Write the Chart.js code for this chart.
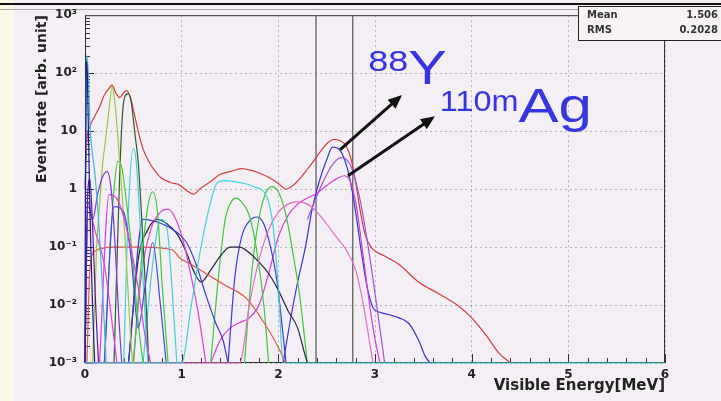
<!DOCTYPE html>
<html>
<head>
<meta charset="utf-8">
<script src="https://cdn.jsdelivr.net/npm/chart.js@4.4.0/dist/chart.umd.min.js"></script>
<style>
  html, body { margin: 0; padding: 0; background: #f4eff4; }
</style>
</head>
<body>
<canvas id="myChart" width="721" height="401"></canvas>
<script>
// axis ticks
const xTicks = [0, 1, 2, 3, 4, 5, 6];
const yTicks = [0.001, 0.01, 0.1, 1, 10, 100, 1000];
const yTickLabels = ["10\u207B\u00B3", "10\u207B\u00B2", "10\u207B\u00B9", "1", "10", "10\u00B2", "10\u00B3"];
const markerLines = [2.39, 2.77];
const statsNames = ["Mean", "RMS"];
const statsValues = ["1.506", "0.2028"];

// low energy spikes
const navyE = [0.0, 0.005, 0.012, 0.02, 0.03, 0.045, 0.06, 0.08, 0.1];
const navyRate = [0.001, 2, 120, 160, 30, 1.5, 0.1, 0.008, 0.001];
const purpleBandE = [0.0, 0.02, 0.05, 0.08, 0.11, 0.14];
const purpleBandRate = [0.001, 0.3, 1.5, 0.2, 0.01, 0.001];
const cyanSpikeE = [0.0, 0.01, 0.02, 0.035, 0.05, 0.07, 0.1, 0.14, 0.18, 0.22];
const cyanSpikeRate = [0.001, 20, 200, 90, 15, 5, 2, 0.3, 0.02, 0.001];
const violetE = [0.0, 0.03, 0.08, 0.13, 0.18, 0.23, 0.27, 0.31, 0.35, 0.38];
const violetRate = [0.001, 0.6, 0.3, 0.8, 1.6, 2.0, 1.0, 0.12, 0.006, 0.001];
const lightGreenE = [0.08, 0.12, 0.15, 0.18, 0.21, 0.25, 0.28, 0.31, 0.34, 0.38, 0.42, 0.46, 0.49];
const lightGreenRate = [0.001, 0.1, 0.5, 2.5, 6.5, 25, 58, 30, 8, 1, 0.1, 0.006, 0.001];
const darkGreenE = [0.3, 0.33, 0.36, 0.39, 0.42, 0.45, 0.48, 0.52, 0.55, 0.58, 0.62, 0.66];
const darkGreenRate = [0.001, 0.05, 2, 22, 42, 44, 30, 8, 3, 0.5, 0.03, 0.001];
const greenE = [0.2, 0.26, 0.3, 0.34, 0.38, 0.42, 0.48, 0.55, 0.6];
const greenRate = [0.001, 0.1, 1, 3, 2.4, 0.8, 0.1, 0.005, 0.001];
const greenMidE = [0.5, 0.58, 0.65, 0.7, 0.75, 0.8, 0.86];
const greenMidRate = [0.001, 0.05, 0.5, 0.9, 0.4, 0.02, 0.001];
const cyanMidE = [0.4, 0.45, 0.5, 0.53, 0.56, 0.6, 0.65];
const cyanMidRate = [0.001, 0.5, 5, 3, 0.5, 0.03, 0.001];
const magentaLowE = [0.0, 0.03, 0.1, 0.2, 0.28, 0.33];
const magentaLowRate = [0.001, 0.5, 0.2, 0.05, 0.005, 0.001];
const magentaFallE = [0.15, 0.25, 0.35, 0.45, 0.55, 0.62, 0.68];
const magentaFallRate = [0.001, 0.8, 0.6, 0.15, 0.02, 0.003, 0.001];
const blueVE = [0.2, 0.3, 0.4, 0.48, 0.55, 0.62, 0.7, 0.78, 0.84];
const blueVRate = [0.001, 0.5, 0.4, 0.06, 0.004, 0.02, 0.12, 0.01, 0.001];

// middle region
const blueFallE = [0.45, 0.6, 0.8, 0.95, 1.05, 1.15, 1.25, 1.35, 1.43, 1.48];
const blueFallRate = [0.001, 0.3, 0.25, 0.18, 0.12, 0.05, 0.015, 0.005, 0.0024, 0.001];
const magentaDomeE = [0.5, 0.58, 0.68, 0.78, 0.86, 0.94, 1.02, 1.1, 1.18, 1.25];
const magentaDomeRate = [0.001, 0.03, 0.2, 0.4, 0.45, 0.3, 0.12, 0.03, 0.006, 0.001];
const cyanLowE = [0.6, 0.7, 0.78, 0.85, 0.9, 0.95];
const cyanLowRate = [0.001, 0.05, 0.3, 0.2, 0.02, 0.001];
const orangeE = [0.02, 0.05, 0.1, 0.3, 0.6, 0.9, 0.98, 1.1, 1.25, 1.45, 1.67, 1.85, 2.02, 2.07];
const orangeRate = [0.001, 0.04, 0.085, 0.1, 0.1, 0.09, 0.065, 0.05, 0.035, 0.022, 0.013, 0.005, 0.0016, 0.001];
const blackE = [0.45, 0.55, 0.65, 0.75, 0.85, 0.95, 1.05, 1.12, 1.2, 1.3, 1.4, 1.5, 1.6, 1.7, 1.8, 1.9, 2.0, 2.1, 2.2, 2.27, 2.3];
const blackRate = [0.001, 0.06, 0.2, 0.3, 0.25, 0.17, 0.08, 0.04, 0.025, 0.04, 0.07, 0.1, 0.1, 0.08, 0.055, 0.035, 0.018, 0.008, 0.004, 0.0015, 0.001];
const cyanE = [0.0, 1.0, 1.1, 1.2, 1.3, 1.37, 1.45, 1.55, 1.65, 1.75, 1.85, 1.9, 1.95, 2.0, 2.05, 6.0];
const cyanRate = [0.001, 0.001, 0.01, 0.1, 0.6, 1.3, 1.4, 1.35, 1.25, 1.1, 0.9, 0.6, 0.2, 0.02, 0.001, 0.001];
const greenAE = [1.3, 1.38, 1.45, 1.5, 1.56, 1.62, 1.7, 1.78, 1.85, 1.9];
const greenARate = [0.001, 0.03, 0.3, 0.55, 0.7, 0.6, 0.35, 0.08, 0.01, 0.001];
const greenBE = [1.65, 1.72, 1.78, 1.85, 1.93, 2.0, 2.08, 2.15, 2.22, 2.3];
const greenBRate = [0.001, 0.03, 0.2, 0.7, 1.1, 0.9, 0.35, 0.08, 0.015, 0.001];
const blueDomeE = [1.48, 1.55, 1.62, 1.7, 1.78, 1.85, 1.92, 1.98, 2.03, 2.08];
const blueDomeRate = [0.001, 0.03, 0.15, 0.28, 0.33, 0.25, 0.1, 0.03, 0.006, 0.001];
const pinkE = [0.0, 1.6, 1.7, 1.8, 1.9, 2.0, 2.1, 2.2, 2.3, 2.4, 2.5, 2.6, 2.7, 2.8, 2.88, 2.95, 2.98];
const pinkRate = [0.001, 0.001, 0.01, 0.06, 0.2, 0.4, 0.55, 0.6, 0.55, 0.4, 0.25, 0.15, 0.09, 0.04, 0.01, 0.002, 0.001];

// 88Y and 110mAg peaks
const agE = [1.3, 1.4, 1.5, 1.6, 1.7, 1.8, 1.9, 2.0, 2.1, 2.2, 2.3, 2.4, 2.5, 2.6, 2.68, 2.74, 2.8, 2.86, 2.92, 2.98, 3.05];
const agRate = [0.001, 0.0025, 0.004, 0.005, 0.006, 0.01, 0.035, 0.15, 0.35, 0.55, 0.7, 0.85, 1.15, 1.5, 1.7, 1.4, 0.6, 0.12, 0.02, 0.004, 0.001];
const violetPeakE = [2.3, 2.45, 2.55, 2.65, 2.75, 2.85, 2.95, 3.05, 3.1];
const violetPeakRate = [0.3, 1.2, 2.5, 3.5, 2.5, 0.6, 0.06, 0.004, 0.001];
const yttriumE = [2.05, 2.12, 2.2, 2.28, 2.35, 2.42, 2.5, 2.56, 2.62, 2.68, 2.74, 2.8, 2.86, 2.92, 2.98, 3.05, 3.15, 3.25, 3.35, 3.45, 3.52, 3.57];
const yttriumRate = [0.001, 0.005, 0.025, 0.1, 0.45, 1.3, 3.2, 5.3, 5.0, 3.4, 1.5, 0.4, 0.08, 0.02, 0.009, 0.0075, 0.0068, 0.006, 0.0048, 0.0025, 0.0013, 0.001];

// total
const totalE = [0.0, 0.02, 0.05, 0.1, 0.15, 0.2, 0.25, 0.28, 0.32, 0.36, 0.4, 0.43, 0.47, 0.51, 0.55, 0.6, 0.66, 0.72, 0.78, 0.88,
  0.97, 1.05, 1.12, 1.2, 1.3, 1.4, 1.5, 1.62, 1.72, 1.8, 1.9, 2.0, 2.08, 2.15, 2.22, 2.3, 2.38, 2.45, 2.52, 2.58,
  2.64, 2.7, 2.75, 2.8, 2.85, 2.9, 2.97, 3.1, 3.25, 3.45, 3.65, 3.85, 4.0, 4.15, 4.28, 4.4];
const totalRate = [1, 7, 12, 18, 26, 42, 55, 62, 45, 38, 46, 50, 38, 20, 10, 5, 3, 2.1, 1.6, 1.3,
  1.2, 0.95, 0.82, 1.05, 1.35, 1.8, 2.0, 2.25, 2.1, 1.9, 1.6, 1.25, 1.0, 1.15, 1.5, 2.2, 3.3, 4.8, 6.5, 7.2,
  6.8, 5.6, 3.4, 1.3, 0.4, 0.16, 0.095, 0.07, 0.05, 0.025, 0.016, 0.01, 0.006, 0.003, 0.0015, 0.001];

const curves = [
  [cyanE, cyanRate, "#3fd3d6"],
  [pinkE, pinkRate, "#e46cc8"],
  [navyE, navyRate, "#1a1a8c"],
  [purpleBandE, purpleBandRate, "#5a1a9c"],
  [cyanSpikeE, cyanSpikeRate, "#3fb8e0"],
  [violetE, violetRate, "#7b3ad4"],
  [magentaLowE, magentaLowRate, "#dd3fdd"],
  [magentaFallE, magentaFallRate, "#dd3fdd"],
  [blueVE, blueVRate, "#4646d8"],
  [lightGreenE, lightGreenRate, "#9cc83c"],
  [greenE, greenRate, "#3ec83e"],
  [greenMidE, greenMidRate, "#3ec83e"],
  [darkGreenE, darkGreenRate, "#2e5a2e"],
  [cyanMidE, cyanMidRate, "#3fd3d6"],
  [blueFallE, blueFallRate, "#3a3ad8"],
  [magentaDomeE, magentaDomeRate, "#dd3fdd"],
  [cyanLowE, cyanLowRate, "#3fd3d6"],
  [orangeE, orangeRate, "#e0584a"],
  [blackE, blackRate, "#26263a"],
  [greenAE, greenARate, "#3ec83e"],
  [greenBE, greenBRate, "#3ec83e"],
  [blueDomeE, blueDomeRate, "#3a3ad8"],
  [agE, agRate, "#d83ad8"],
  [violetPeakE, violetPeakRate, "#a050e0"],
  [yttriumE, yttriumRate, "#3535d0"],
  [totalE, totalRate, "#d63c3c"],
];

function pts(e, r) {
  return e.map((v, i) => ({ x: v, y: r[i] }));
}

const datasets = curves.map(c => ({
  data: pts(c[0], c[1]),
  borderColor: c[2],
  borderWidth: 1.2,
  pointRadius: 0,
  fill: false,
  cubicInterpolationMode: "monotone",
  clip: 4,
}));

markerLines.forEach(e => {
  datasets.push({
    data: [{ x: e, y: yTicks[0] }, { x: e, y: yTicks[yTicks.length - 1] }],
    borderColor: "#555555",
    borderWidth: 1.2,
    pointRadius: 0,
    fill: false,
  });
});

const FONT = "'Liberation Sans', 'DejaVu Sans', Arial, sans-serif";
const AXFONT = "'DejaVu Sans', 'Liberation Sans', sans-serif";

function arrow(c, x1, y1, x2, y2) {
  const a = Math.atan2(y2 - y1, x2 - x1);
  const hl = 14, hw = 6;
  c.beginPath();
  c.moveTo(x1, y1);
  c.lineTo(x2 - Math.cos(a) * hl * 0.8, y2 - Math.sin(a) * hl * 0.8);
  c.stroke();
  c.beginPath();
  c.moveTo(x2, y2);
  c.lineTo(x2 - Math.cos(a) * hl - Math.sin(a) * hw, y2 - Math.sin(a) * hl + Math.cos(a) * hw);
  c.lineTo(x2 - Math.cos(a) * hl + Math.sin(a) * hw, y2 - Math.sin(a) * hl - Math.cos(a) * hw);
  c.closePath();
  c.fill();
}

// text drawn a bit wider, like the stretched original
function wideText(c, text, x, y, sx) {
  c.save();
  c.translate(x, y);
  c.scale(sx, 1);
  c.fillText(text, 0, 0);
  const w = c.measureText(text).width * sx;
  c.restore();
  return w;
}

const rootStyle = {
  id: "rootStyle",
  beforeDraw(chart) {
    const c = chart.ctx;
    c.save();
    c.fillStyle = "#f4eff4";
    c.fillRect(0, 0, chart.width, chart.height);
    c.fillStyle = "#fbf9e6";
    c.fillRect(0, 0, 14, chart.height);
    c.fillStyle = "#111";
    c.fillRect(0, 3, chart.width, 2);
    c.fillStyle = "#aaa";
    c.fillRect(0, 9, chart.width, 1);
    c.restore();
  },
  beforeDatasetsDraw(chart) {
    const c = chart.ctx;
    const a = chart.chartArea;
    const xs = chart.scales.x, ys = chart.scales.y;
    c.save();
    c.strokeStyle = "#333";
    c.lineWidth = 1;
    c.strokeRect(a.left + 0.5, a.top + 0.5, a.right - a.left - 1, a.bottom - a.top - 1);
    c.beginPath();
    for (let i = 0; i <= 30; i++) {
      const px = Math.round(xs.getPixelForValue(i / 5)) + 0.5;
      const len = i % 5 === 0 ? 9 : 5;
      c.moveTo(px, a.bottom);
      c.lineTo(px, a.bottom - len);
    }
    for (let d = -3; d < 3; d++) {
      for (let k = 1; k <= 9; k++) {
        const py = Math.round(ys.getPixelForValue(k * Math.pow(10, d))) + 0.5;
        const len = k === 1 ? 9 : 5;
        c.moveTo(a.left, py);
        c.lineTo(a.left + len, py);
      }
    }
    c.stroke();
    c.restore();
  },
  afterDatasetsDraw(chart) {
    const c = chart.ctx;
    const xs = chart.scales.x, ys = chart.scales.y;
    const X = v => xs.getPixelForValue(v), Y = v => ys.getPixelForValue(v);
    c.save();
    // arrows
    c.strokeStyle = "#111";
    c.fillStyle = "#111";
    c.lineWidth = 3;
    arrow(c, X(2.64), Y(4.8), X(3.28), Y(42));
    arrow(c, X(2.72), Y(1.7), X(3.62), Y(18));
    // labels
    c.fillStyle = "#3636e0";
    c.textBaseline = "alphabetic";
    c.textAlign = "left";
    c.font = "30px " + FONT;
    let x0 = X(2.93);
    x0 += wideText(c, "88", x0, Y(110), 1.2);
    c.font = "48px " + FONT;
    wideText(c, "Y", x0, Y(64), 1.2);
    c.font = "30px " + FONT;
    x0 = X(3.67);
    x0 += wideText(c, "110m", x0, Y(22), 1.08);
    c.font = "48px " + FONT;
    wideText(c, "Ag", x0, Y(14.5), 1.25);
    // stats box
    c.fillStyle = "#f6f2f6";
    c.fillRect(578, 6, 150, 34);
    c.strokeStyle = "#222";
    c.lineWidth = 1;
    c.strokeRect(578.5, 6.5, 150, 34);
    c.fillStyle = "#333";
    c.font = "bold 10px " + AXFONT;
    c.textBaseline = "middle";
    statsNames.forEach((n, i) => {
      c.textAlign = "left";
      c.fillText(n, 587, 15 + i * 15);
      c.textAlign = "right";
      c.fillText(statsValues[i], 718, 15 + i * 15);
    });
    c.restore();
  },
};

const ctx = document.getElementById("myChart");

new Chart(ctx, {
  type: "line",
  data: { datasets: datasets },
  options: {
    responsive: false,
    animation: false,
    events: [],
    layout: { padding: { left: 30, right: 56, top: 12, bottom: 2 } },
    plugins: {
      legend: { display: false },
      tooltip: { enabled: false },
    },
    scales: {
      x: {
        type: "linear",
        min: 0,
        max: 6,
        afterFit: s => { s.height = 36; },
        afterBuildTicks: s => { s.ticks = xTicks.map(v => ({ value: v })); },
        grid: { color: "rgba(120,120,120,0.5)", drawTicks: false },
        border: { display: false, dash: [2, 3] },
        ticks: {
          padding: 5,
          color: "#222",
          font: { family: AXFONT, size: 12, weight: "bold" },
          maxRotation: 0,
        },
        title: {
          display: true,
          text: "Visible Energy[MeV]",
          align: "end",
          color: "#222",
          font: { family: AXFONT, size: 15, weight: "bold" },
        },
      },
      y: {
        type: "logarithmic",
        min: 0.001,
        max: 1000,
        afterFit: s => { s.width = 55; },
        afterBuildTicks: s => { s.ticks = yTicks.map(v => ({ value: v })); },
        grid: { color: "rgba(120,120,120,0.5)", drawTicks: false },
        border: { display: false, dash: [2, 3] },
        ticks: {
          padding: 8,
          color: "#222",
          font: { family: AXFONT, size: 12, weight: "bold" },
          callback: (v) => {
            const i = yTicks.indexOf(v);
            return i >= 0 ? yTickLabels[i] : "";
          },
        },
        title: {
          display: true,
          text: "Event rate [arb. unit]",
          align: "end",
          color: "#222",
          font: { family: AXFONT, size: 14, weight: "bold" },
        },
      },
    },
  },
  plugins: [rootStyle],
});
</script>
</body>
</html>
